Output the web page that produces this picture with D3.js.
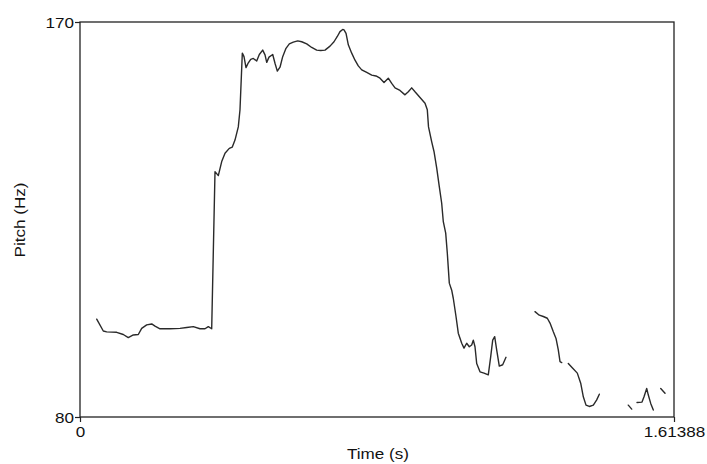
<!DOCTYPE html>
<html>
<head>
<meta charset="utf-8">
<script src="https://cdn.jsdelivr.net/npm/d3@7"></script>
<style>
  body { margin: 0; background: #fff; }
  text { font-family: "Liberation Sans", Arial, sans-serif; fill: #111; }
</style>
</head>
<body>
<svg id="chart" width="707" height="464"></svg>
<script>
// Pitch track (seconds, Hz); null marks an unvoiced gap between voiced stretches
const times = [
  0.0454, 0.0633, 0.0725, 0.0997, 0.1176, 0.1312, 0.1448, 0.1584, 0.1676, 0.1812,
  0.1948, 0.2038, 0.2174, 0.2445, 0.2717, 0.2899, 0.3078, 0.3260, 0.3396, 0.3486,
  0.3578, 0.3668, 0.3758, 0.3850, 0.3940, 0.4056, 0.4138, 0.4211, 0.4301, 0.4347,
  0.4410, 0.4456, 0.4510, 0.4573, 0.4638, 0.4709, 0.4801, 0.4872, 0.4964, 0.5027,
  0.5073, 0.5135, 0.5236, 0.5298, 0.5361, 0.5434, 0.5507, 0.5597, 0.5687, 0.5795,
  0.5915, 0.6024, 0.6160, 0.6295, 0.6431, 0.6540, 0.6657, 0.6793, 0.6901, 0.6991,
  0.7064, 0.7138, 0.7173, 0.7228, 0.7290, 0.7382, 0.7472, 0.7561, 0.7654, 0.7790,
  0.7925, 0.8042, 0.8151, 0.8260, 0.8376, 0.8469, 0.8559, 0.8694, 0.8830, 0.8920,
  0.9012, 0.9102, 0.9238, 0.9374, 0.9436, 0.9469, 0.9556, 0.9618, 0.9692, 0.9762,
  0.9827, 0.9871, 0.9936, 0.9980, 1.0034, 1.0099, 1.0143, 1.0216, 1.0278, 1.0371,
  1.0433, 1.0506, 1.0577, 1.0642, 1.0686, 1.0732, 1.0778, 1.0868, 1.0977, 1.1093,
  1.1158, 1.1213, 1.1267, 1.1321, 1.1392, 1.1484, 1.1574,
  1.1900,
  1.2362, 1.2479, 1.2588, 1.2697, 1.2770, 1.2860, 1.2933, 1.2995, 1.3042, 1.3088,
  1.3180,
  1.3267, 1.3387, 1.3512, 1.3604, 1.3675, 1.3748, 1.3838, 1.3947, 1.4039, 1.4110,
  1.4500,
  1.4897, 1.4990,
  1.5060,
  1.5134, 1.5270, 1.5324, 1.5397, 1.5441, 1.5506, 1.5577,
  1.5680,
  1.5778, 1.5895
];
const pitch = [
  102.3, 99.6, 99.4, 99.3, 98.8, 98.1, 98.7, 98.8, 100.2, 101.0,
  101.2, 100.7, 100.1, 100.1, 100.2, 100.4, 100.6, 100.1, 100.1, 100.6,
  100.1, 135.9, 135.0, 138.2, 140.1, 141.2, 141.5, 143.1, 146.1, 150.0,
  162.9, 162.1, 159.6, 160.7, 161.5, 161.7, 161.1, 162.6, 163.6, 162.5,
  160.8, 162.0, 162.6, 160.6, 158.8, 159.7, 162.1, 164.0, 165.0, 165.4,
  165.7, 165.5, 165.0, 164.2, 163.6, 163.5, 163.6, 164.5, 165.5, 166.7,
  167.8, 168.3, 168.2, 167.4, 164.8, 162.9, 161.3, 160.0, 159.1, 158.5,
  157.9, 157.7, 157.2, 156.2, 157.2, 156.0, 155.0, 154.4, 153.4, 154.1,
  155.0, 154.1, 152.8, 151.5, 150.0, 146.1, 142.7, 140.5, 136.7, 132.5,
  128.7, 124.5, 121.9, 117.3, 110.5, 108.9, 107.0, 102.9, 99.1, 96.8,
  95.7, 96.8, 96.0, 96.4, 97.5, 96.0, 92.2, 90.3, 90.0, 89.6,
  93.7, 97.5, 98.3, 95.3, 91.6, 91.9, 93.6,
  null,
  104.0, 103.2, 102.9, 102.5, 101.4, 99.4, 97.9, 95.3, 92.6, 92.4,
  null,
  92.2, 91.1, 90.0, 87.7, 84.6, 82.7, 82.4, 82.7, 83.9, 85.2,
  null,
  82.7, 81.8,
  null,
  83.3, 83.4, 84.6, 86.5, 85.0, 83.1, 81.6,
  null,
  86.5, 85.4
];
const xDomain = [0, 1.61388];
const yDomain = [80, 170];
const xTickValues = [0, 1.61388];
const yTickValues = [80, 170];
const xTitle = "Time (s)";
const yTitle = "Pitch (Hz)";

const svg = d3.select("#chart");
const plot = { left: 80, top: 22, right: 674, bottom: 417 };
const stretch = 1.22;

const x = d3.scaleLinear().domain(xDomain).range([plot.left, plot.right]);
const y = d3.scaleLinear().domain(yDomain).range([plot.bottom, plot.top]);

// Frame around the plot area
svg.append("rect")
  .attr("x", plot.left).attr("y", plot.top)
  .attr("width", plot.right - plot.left)
  .attr("height", plot.bottom - plot.top)
  .attr("fill", "none")
  .attr("stroke", "#222")
  .attr("stroke-width", 1.3);

// Axes with only the end ticks
const yAxis = svg.append("g")
  .attr("transform", `translate(${plot.left},0)`)
  .call(d3.axisLeft(y).tickValues(yTickValues).tickSize(5).tickFormat(d => String(d)));
const xAxis = svg.append("g")
  .attr("transform", `translate(0,${plot.bottom})`)
  .call(d3.axisBottom(x).tickValues(xTickValues).tickSize(5).tickFormat(d => String(d)));

[yAxis, xAxis].forEach(g => {
  g.select(".domain").remove();
  g.selectAll(".tick line").attr("stroke", "#222").attr("stroke-width", 1.2);
  g.selectAll(".tick text")
    .attr("font-family", "Liberation Sans, Arial, sans-serif")
    .attr("font-size", 14)
    .attr("fill", "#111");
});
yAxis.selectAll(".tick text")
  .attr("x", 0).attr("dy", "0.36em")
  .attr("transform", `translate(-6,0) scale(${stretch},1)`);
xAxis.selectAll(".tick text")
  .attr("y", 0).attr("dy", 0)
  .attr("transform", `translate(0,20) scale(${stretch},1)`);

// Axis titles
svg.append("text")
  .attr("text-anchor", "middle")
  .attr("font-size", 14)
  .attr("transform", `translate(378,459) scale(${stretch},1)`)
  .text(xTitle);
svg.append("text")
  .attr("text-anchor", "middle")
  .attr("font-size", 14)
  .attr("transform", `translate(25,220) rotate(-90) scale(${stretch},1)`)
  .text(yTitle);

// Pitch contour
const pts = times.map((t, i) => [t, pitch[i]]);
const line = d3.line()
  .defined(d => d[1] !== null)
  .x(d => x(d[0]))
  .y(d => y(d[1]));
svg.append("path")
  .datum(pts)
  .attr("d", line)
  .attr("fill", "none")
  .attr("stroke", "#2a2a2a")
  .attr("stroke-width", 1.4)
  .attr("stroke-linejoin", "round")
  .attr("stroke-linecap", "round");
</script>
</body>
</html>
